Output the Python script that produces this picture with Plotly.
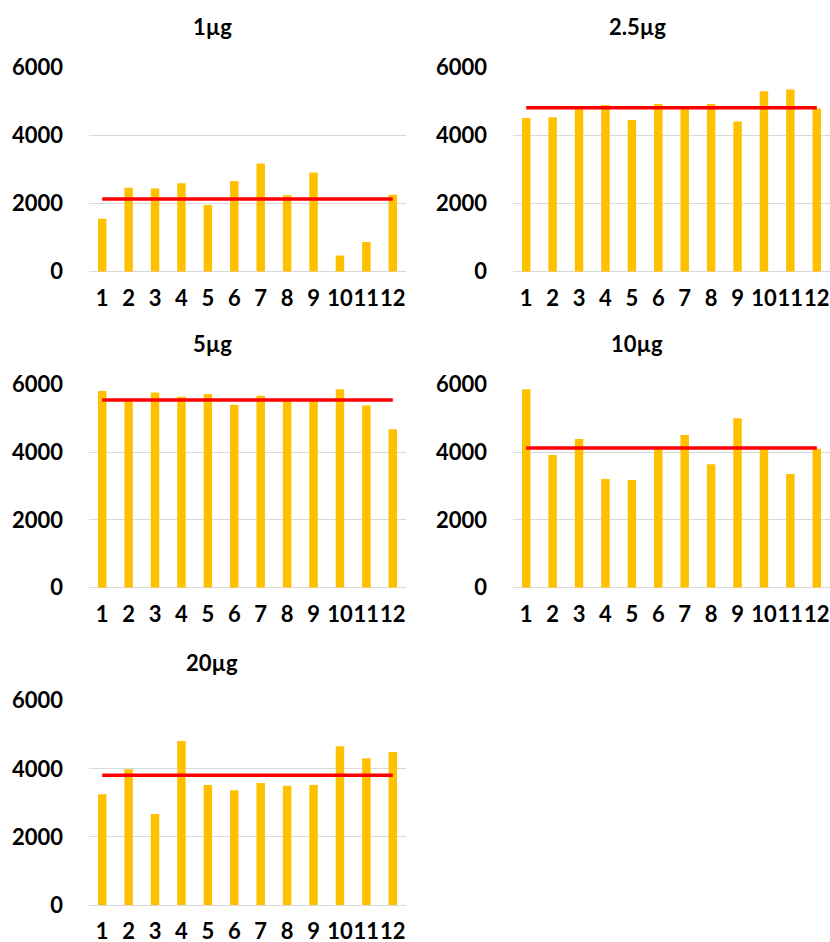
import plotly.graph_objects as go

wells = [str(i) for i in range(1, 13)]
panel_titles = ["1µg", "2.5µg", "5µg", "10µg", "20µg"]

values_1ug = [1560, 2470, 2450, 2600, 1960, 2670, 3185, 2245, 2920, 480, 870, 2265]
values_2_5ug = [4520, 4540, 4800, 4900, 4460, 4930, 4800, 4930, 4420, 5310, 5360, 4800]
values_5ug = [5805, 5540, 5755, 5630, 5715, 5395, 5660, 5530, 5530, 5855, 5375, 4675]
values_10ug = [5855, 3915, 4390, 3210, 3180, 4100, 4505, 3640, 5000, 4100, 3355, 4100]
values_20ug = [3250, 3985, 2675, 4815, 3525, 3370, 3585, 3505, 3525, 4660, 4310, 4495]

mean_values = [2140, 4820, 5540, 4120, 3808]

y_ticks = [0, 2000, 4000, 6000]

series = [values_1ug, values_2_5ug, values_5ug, values_10ug, values_20ug]

W, H = 830, 942
# pixel boxes: (x0, x1, y_top(6000), y_bottom(0)), title center (x, y)
boxes = [
    (89, 406, 67.7, 271.7, 212, 27),
    (513, 830, 67.7, 271.7, 637, 27),
    (89, 406, 384.3, 587.7, 212, 343),
    (513, 830, 384.3, 587.7, 637, 343),
    (89, 406, 700.7, 905, 212, 662),
]

BAR = "#FFC000"
LINE = "#FF0000"
GRID = "#D9D9D9"
FONT = "Lato"
FS = 22

fig = go.Figure()
layout = dict(
    width=W, height=H,
    margin=dict(l=0, r=0, t=0, b=0, pad=0, autoexpand=False),
    paper_bgcolor="white", plot_bgcolor="white",
    showlegend=False,
    annotations=[],
)

xcats = list(range(1, 13))
for i, (vals, mean, title, box) in enumerate(zip(series, mean_values, panel_titles, boxes)):
    x0, x1, yt, yb, tx, ty = box
    n = "" if i == 0 else str(i + 1)
    fig.add_trace(go.Bar(x=xcats, y=vals, marker=dict(color=BAR, line=dict(width=0)),
                         width=0.32, xaxis="x" + n, yaxis="y" + n))
    fig.add_trace(go.Scatter(x=xcats, y=[mean] * 12, mode="lines",
                             line=dict(color=LINE, width=3.5),
                             xaxis="x" + n, yaxis="y" + n, cliponaxis=False))
    layout["xaxis" + n] = dict(
        domain=[x0 / W, x1 / W], anchor="y" + n, automargin=False,
        range=[0.5, 12.5], tickvals=xcats, ticktext=wells, tickangle=0,
        ticklabeloverflow="allow",
        showgrid=False, zeroline=False, showline=False, ticks="",
        tickfont=dict(family=FONT, size=FS, color="black", weight="bold"),
        ticklabelstandoff=11, fixedrange=True,
    )
    layout["yaxis" + n] = dict(
        domain=[1 - yb / H, 1 - yt / H], anchor="x" + n, automargin=False,
        range=[0, 6000], tickvals=y_ticks, ticklabeloverflow="allow",
        showgrid=True, gridcolor=GRID, gridwidth=1.3,
        zeroline=True, zerolinecolor=GRID, zerolinewidth=1.3,
        showline=False, ticks="",
        tickfont=dict(family=FONT, size=FS, color="black", weight="bold"),
        ticklabelstandoff=25, fixedrange=True,
    )
    layout["annotations"].append(dict(
        text=title, x=tx / W, y=1 - ty / H, xref="paper", yref="paper",
        xanchor="center", yanchor="middle", showarrow=False,
        font=dict(family=FONT, size=FS, color="black", weight="bold"),
    ))

fig.update_layout(**layout)
fig.write_html("out.html", config={"displayModeBar": False},
               post_script="document.body.style.margin='0';document.body.style.overflow='hidden';")
